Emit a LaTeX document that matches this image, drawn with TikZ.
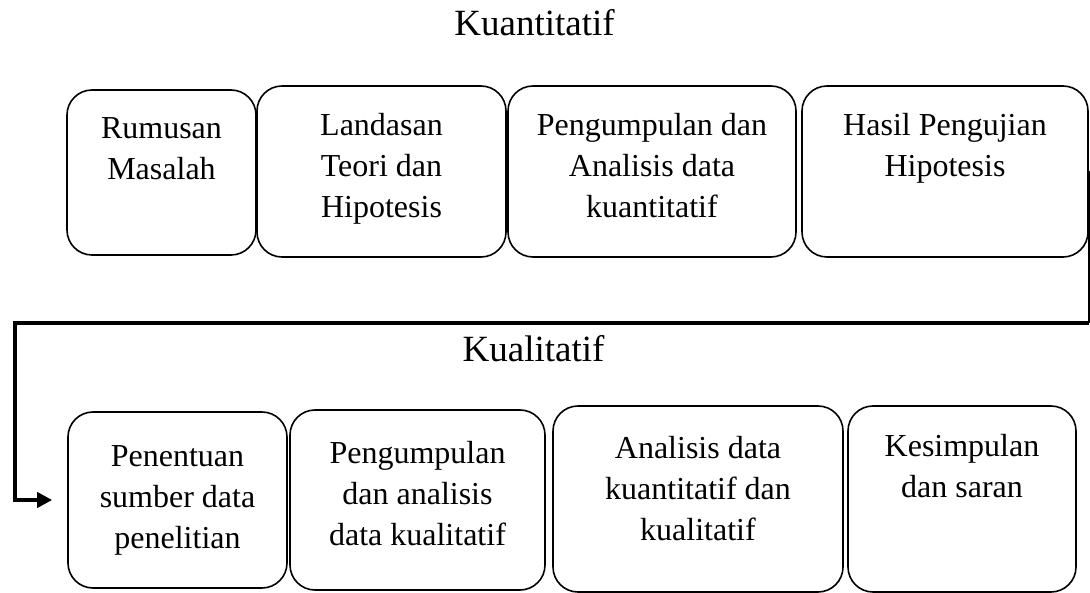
\documentclass[tikz,border=0pt]{standalone}
\usepackage{fontspec}
\setmainfont{Liberation Serif}
\usetikzlibrary{arrows.meta}
\begin{document}
\begin{tikzpicture}[x=1pt,y=-1pt,
  box/.style={draw=black, line width=1.6pt, rounded corners=25pt, inner sep=0pt},
  txt/.style={align=center, inner sep=0pt, anchor=north, font=\fontsize{32}{41}\selectfont},
  ttl/.style={inner sep=0pt, anchor=base, font=\fontsize{37}{42}\selectfont},
  flow/.style={line width=3.8pt},
  thinflow/.style={line width=1.4pt}]
\useasboundingbox (0,0) rectangle (1090,593);

% titles
\node[ttl] (kuan) at (534.5,36) {Kuantitatif};
\node[ttl] (kual) at (533.5,362) {Kualitatif};

% top row
\node[box, minimum width=189pt, minimum height=165pt] (b1) at (161.5,172.5) {};
\node[box, minimum width=249pt, minimum height=171pt] (b2) at (381.5,171.5) {};
\node[box, minimum width=288pt, minimum height=171pt] (b3) at (652,171.5) {};
\node[box, minimum width=286pt, minimum height=171pt] (b4) at (945,171.5) {};

\node[txt] (t1) at (161.5,117.5) {Rumusan\\Masalah};
\node[txt] (t2) at (381.5,113) {Landasan\\Teori dan\\Hipotesis};
\node[txt] (t3) at (652,113) {Pengumpulan dan\\Analisis data\\kuantitatif};
\node[txt] (t4) at (945,113) {Hasil Pengujian\\Hipotesis};

% bottom row
\node[box, minimum width=219pt, minimum height=176pt] (c1) at (177.5,500) {};
\node[box, minimum width=255pt, minimum height=180pt] (c2) at (417.5,500) {};
\node[box, minimum width=290pt, minimum height=186pt] (c3) at (698,499) {};
\node[box, minimum width=228pt, minimum height=186pt] (c4) at (962,499) {};

\node[txt] (u1) at (177.5,445) {Penentuan\\sumber data\\penelitian};
\node[txt] (u2) at (417.5,441) {Pengumpulan\\dan analisis\\data kualitatif};
\node[txt] (u3) at (698,436) {Analisis data\\kuantitatif dan\\kualitatif};
\node[txt] (u4) at (962,434) {Kesimpulan\\dan saran};

% connector
\coordinate (cL) at (15,323);
\draw[thinflow] (b4.east) -- (b4.east |- cL);
\draw[flow, -{Triangle[length=15pt,width=15pt]}] (b4.east |- cL) -- (cL) |- ([xshift=-15pt]c1.west);
\end{tikzpicture}
\end{document}
